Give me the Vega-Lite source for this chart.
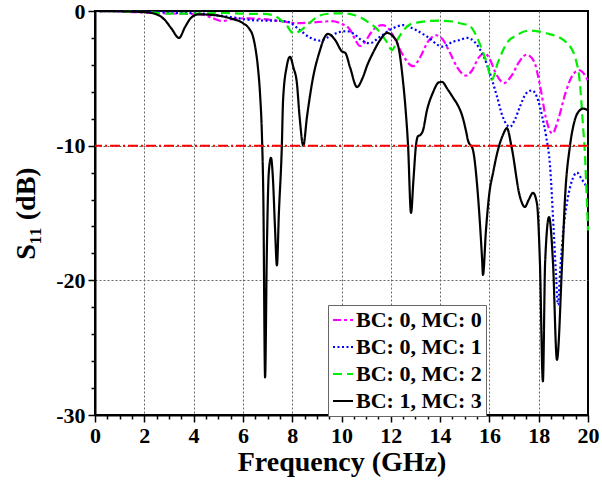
{
"$schema": "https://vega.github.io/schema/vega-lite/v6.json",
"width": 493, "height": 404,
"autosize": {"type": "none"},
"padding": {"left": 95, "top": 11, "right": 14, "bottom": 75},
"config": {
  "view": {"stroke": "#000", "strokeWidth": 2},
  "font": "Liberation Serif",
  "axis": {"labelFont": "Liberation Serif", "labelFontWeight": "bold", "labelFontSize": 22, "labelColor": "#000",
    "titleFont": "Liberation Serif", "titleFontWeight": "bold", "titleFontSize": 28, "titleColor": "#000",
    "domainColor": "#000", "domainWidth": 2, "tickColor": "#000", "tickWidth": 1.5,
    "gridColor": "#666", "gridDash": [2, 2], "gridWidth": 1, "labelOverlap": false, "labelFlush": false, "labelBound": false},
  "legend": {"title": null, "orient": "none", "legendX": 233, "legendY": 294, "symbolType": "stroke", "symbolStrokeWidth": 2,
    "symbolSize": 400, "labelFont": "Liberation Serif", "labelFontWeight": "bold", "labelFontSize": 22, "labelColor": "#000",
    "strokeColor": "#666", "fillColor": "#fff", "padding": 4, "rowPadding": 5, "labelOffset": 2, "labelLimit": 0}
},
"resolve": {"scale": {"y": "independent"}, "axis": {"y": "independent"}},
"layer": [
 {
  "data": {"values": [
{"s":"BC: 0, MC: 0","f":0,"v":0},{"s":"BC: 0, MC: 0","f":1,"v":-0.03},{"s":"BC: 0, MC: 0","f":2,"v":-0.12},{"s":"BC: 0, MC: 0","f":3,"v":-0.18},{"s":"BC: 0, MC: 0","f":3.6,"v":-0.2},{"s":"BC: 0, MC: 0","f":4.26,"v":-0.24},{"s":"BC: 0, MC: 0","f":4.8,"v":-0.55},{"s":"BC: 0, MC: 0","f":5.15,"v":-0.75},{"s":"BC: 0, MC: 0","f":5.6,"v":-0.58},{"s":"BC: 0, MC: 0","f":6.2,"v":-0.55},{"s":"BC: 0, MC: 0","f":6.8,"v":-0.6},{"s":"BC: 0, MC: 0","f":7.5,"v":-0.75},{"s":"BC: 0, MC: 0","f":8.2,"v":-0.9},{"s":"BC: 0, MC: 0","f":8.6,"v":-0.88},{"s":"BC: 0, MC: 0","f":9.2,"v":-0.8},{"s":"BC: 0, MC: 0","f":9.6,"v":-0.75},{"s":"BC: 0, MC: 0","f":10.0,"v":-0.95},{"s":"BC: 0, MC: 0","f":10.35,"v":-1.4},{"s":"BC: 0, MC: 0","f":10.55,"v":-2.1},{"s":"BC: 0, MC: 0","f":10.75,"v":-2.6},{"s":"BC: 0, MC: 0","f":10.95,"v":-2.3},{"s":"BC: 0, MC: 0","f":11.2,"v":-1.6},{"s":"BC: 0, MC: 0","f":11.45,"v":-1.15},{"s":"BC: 0, MC: 0","f":11.66,"v":-1.05},{"s":"BC: 0, MC: 0","f":11.9,"v":-1.3},{"s":"BC: 0, MC: 0","f":12.2,"v":-2.2},{"s":"BC: 0, MC: 0","f":12.5,"v":-3.3},{"s":"BC: 0, MC: 0","f":12.9,"v":-4.1},{"s":"BC: 0, MC: 0","f":13.2,"v":-3.4},{"s":"BC: 0, MC: 0","f":13.5,"v":-2.3},{"s":"BC: 0, MC: 0","f":13.85,"v":-1.8},{"s":"BC: 0, MC: 0","f":14.1,"v":-2.1},{"s":"BC: 0, MC: 0","f":14.4,"v":-3.1},{"s":"BC: 0, MC: 0","f":14.7,"v":-4.2},{"s":"BC: 0, MC: 0","f":15.05,"v":-4.8},{"s":"BC: 0, MC: 0","f":15.3,"v":-4.4},{"s":"BC: 0, MC: 0","f":15.55,"v":-3.5},{"s":"BC: 0, MC: 0","f":15.8,"v":-3.15},{"s":"BC: 0, MC: 0","f":16.0,"v":-3.5},{"s":"BC: 0, MC: 0","f":16.25,"v":-4.6},{"s":"BC: 0, MC: 0","f":16.6,"v":-5.35},{"s":"BC: 0, MC: 0","f":16.9,"v":-4.8},{"s":"BC: 0, MC: 0","f":17.2,"v":-3.8},{"s":"BC: 0, MC: 0","f":17.5,"v":-3.25},{"s":"BC: 0, MC: 0","f":17.8,"v":-3.7},{"s":"BC: 0, MC: 0","f":18.05,"v":-5.5},{"s":"BC: 0, MC: 0","f":18.3,"v":-8.0},{"s":"BC: 0, MC: 0","f":18.55,"v":-9.1},{"s":"BC: 0, MC: 0","f":18.8,"v":-8.0},{"s":"BC: 0, MC: 0","f":19.1,"v":-6.0},{"s":"BC: 0, MC: 0","f":19.4,"v":-4.7},{"s":"BC: 0, MC: 0","f":19.65,"v":-4.4},{"s":"BC: 0, MC: 0","f":19.85,"v":-4.7},{"s":"BC: 0, MC: 0","f":20,"v":-5.2},
{"s":"BC: 0, MC: 1","f":0,"v":0},{"s":"BC: 0, MC: 1","f":1,"v":-0.02},{"s":"BC: 0, MC: 1","f":2,"v":-0.05},{"s":"BC: 0, MC: 1","f":3,"v":-0.12},{"s":"BC: 0, MC: 1","f":4.4,"v":-0.2},{"s":"BC: 0, MC: 1","f":5.5,"v":-0.45},{"s":"BC: 0, MC: 1","f":6.55,"v":-0.7},{"s":"BC: 0, MC: 1","f":7.5,"v":-0.72},{"s":"BC: 0, MC: 1","f":7.9,"v":-0.85},{"s":"BC: 0, MC: 1","f":8.3,"v":-1.4},{"s":"BC: 0, MC: 1","f":8.7,"v":-1.95},{"s":"BC: 0, MC: 1","f":9.13,"v":-2.2},{"s":"BC: 0, MC: 1","f":9.5,"v":-1.9},{"s":"BC: 0, MC: 1","f":9.94,"v":-1.55},{"s":"BC: 0, MC: 1","f":10.22,"v":-1.5},{"s":"BC: 0, MC: 1","f":10.5,"v":-1.7},{"s":"BC: 0, MC: 1","f":10.8,"v":-2.15},{"s":"BC: 0, MC: 1","f":11.15,"v":-2.4},{"s":"BC: 0, MC: 1","f":11.5,"v":-2.0},{"s":"BC: 0, MC: 1","f":11.97,"v":-1.4},{"s":"BC: 0, MC: 1","f":12.5,"v":-1.05},{"s":"BC: 0, MC: 1","f":13.0,"v":-1.4},{"s":"BC: 0, MC: 1","f":13.47,"v":-1.9},{"s":"BC: 0, MC: 1","f":14.1,"v":-2.65},{"s":"BC: 0, MC: 1","f":14.5,"v":-2.3},{"s":"BC: 0, MC: 1","f":14.8,"v":-2.15},{"s":"BC: 0, MC: 1","f":15.1,"v":-2.0},{"s":"BC: 0, MC: 1","f":15.4,"v":-2.3},{"s":"BC: 0, MC: 1","f":15.6,"v":-2.8},{"s":"BC: 0, MC: 1","f":15.8,"v":-3.5},{"s":"BC: 0, MC: 1","f":16.0,"v":-4.5},{"s":"BC: 0, MC: 1","f":16.3,"v":-6.3},{"s":"BC: 0, MC: 1","f":16.55,"v":-7.9},{"s":"BC: 0, MC: 1","f":16.83,"v":-8.6},{"s":"BC: 0, MC: 1","f":17.05,"v":-8.0},{"s":"BC: 0, MC: 1","f":17.24,"v":-7.1},{"s":"BC: 0, MC: 1","f":17.5,"v":-6.1},{"s":"BC: 0, MC: 1","f":17.73,"v":-5.9},{"s":"BC: 0, MC: 1","f":17.97,"v":-6.6},{"s":"BC: 0, MC: 1","f":18.15,"v":-7.9},{"s":"BC: 0, MC: 1","f":18.3,"v":-9.3},{"s":"BC: 0, MC: 1","f":18.46,"v":-11.5},{"s":"BC: 0, MC: 1","f":18.6,"v":-16},{"s":"BC: 0, MC: 1","f":18.7,"v":-19.5},{"s":"BC: 0, MC: 1","f":18.78,"v":-21.8},{"s":"BC: 0, MC: 1","f":18.88,"v":-19},{"s":"BC: 0, MC: 1","f":19.0,"v":-16.3},{"s":"BC: 0, MC: 1","f":19.19,"v":-13.8},{"s":"BC: 0, MC: 1","f":19.35,"v":-12.6},{"s":"BC: 0, MC: 1","f":19.55,"v":-12.0},{"s":"BC: 0, MC: 1","f":19.75,"v":-12.5},{"s":"BC: 0, MC: 1","f":20,"v":-13.2},
{"s":"BC: 0, MC: 2","f":0,"v":0},{"s":"BC: 0, MC: 2","f":1,"v":-0.02},{"s":"BC: 0, MC: 2","f":2,"v":-0.08},{"s":"BC: 0, MC: 2","f":3.2,"v":-0.2},{"s":"BC: 0, MC: 2","f":3.85,"v":-0.2},{"s":"BC: 0, MC: 2","f":5.2,"v":-0.15},{"s":"BC: 0, MC: 2","f":6.0,"v":-0.2},{"s":"BC: 0, MC: 2","f":6.8,"v":-0.22},{"s":"BC: 0, MC: 2","f":7.2,"v":-0.3},{"s":"BC: 0, MC: 2","f":7.5,"v":-0.6},{"s":"BC: 0, MC: 2","f":7.75,"v":-1.0},{"s":"BC: 0, MC: 2","f":8.05,"v":-1.65},{"s":"BC: 0, MC: 2","f":8.3,"v":-1.5},{"s":"BC: 0, MC: 2","f":8.6,"v":-1.05},{"s":"BC: 0, MC: 2","f":9.1,"v":-0.35},{"s":"BC: 0, MC: 2","f":9.5,"v":-0.2},{"s":"BC: 0, MC: 2","f":10.0,"v":-0.17},{"s":"BC: 0, MC: 2","f":10.5,"v":-0.3},{"s":"BC: 0, MC: 2","f":10.8,"v":-0.5},{"s":"BC: 0, MC: 2","f":11.1,"v":-0.85},{"s":"BC: 0, MC: 2","f":11.45,"v":-1.35},{"s":"BC: 0, MC: 2","f":11.8,"v":-2.2},{"s":"BC: 0, MC: 2","f":12.05,"v":-2.9},{"s":"BC: 0, MC: 2","f":12.25,"v":-2.2},{"s":"BC: 0, MC: 2","f":12.45,"v":-1.6},{"s":"BC: 0, MC: 2","f":12.78,"v":-1.0},{"s":"BC: 0, MC: 2","f":13.1,"v":-0.85},{"s":"BC: 0, MC: 2","f":13.5,"v":-0.75},{"s":"BC: 0, MC: 2","f":14.0,"v":-0.72},{"s":"BC: 0, MC: 2","f":14.5,"v":-0.78},{"s":"BC: 0, MC: 2","f":14.9,"v":-0.95},{"s":"BC: 0, MC: 2","f":15.2,"v":-1.1},{"s":"BC: 0, MC: 2","f":15.4,"v":-1.6},{"s":"BC: 0, MC: 2","f":15.6,"v":-2.4},{"s":"BC: 0, MC: 2","f":15.9,"v":-3.9},{"s":"BC: 0, MC: 2","f":16.1,"v":-5.1},{"s":"BC: 0, MC: 2","f":16.35,"v":-3.8},{"s":"BC: 0, MC: 2","f":16.7,"v":-2.4},{"s":"BC: 0, MC: 2","f":17.1,"v":-1.8},{"s":"BC: 0, MC: 2","f":17.65,"v":-1.45},{"s":"BC: 0, MC: 2","f":18.3,"v":-1.65},{"s":"BC: 0, MC: 2","f":19.0,"v":-2.15},{"s":"BC: 0, MC: 2","f":19.3,"v":-2.7},{"s":"BC: 0, MC: 2","f":19.47,"v":-3.4},{"s":"BC: 0, MC: 2","f":19.67,"v":-5.35},{"s":"BC: 0, MC: 2","f":19.8,"v":-8.6},{"s":"BC: 0, MC: 2","f":19.88,"v":-10.8},{"s":"BC: 0, MC: 2","f":19.95,"v":-14},{"s":"BC: 0, MC: 2","f":20,"v":-16.3},
{"s":"BC: 1, MC: 3","f":0,"v":0},{"s":"BC: 1, MC: 3","f":1,"v":-0.02},{"s":"BC: 1, MC: 3","f":2,"v":-0.08},{"s":"BC: 1, MC: 3","f":2.5,"v":-0.25},{"s":"BC: 1, MC: 3","f":2.8,"v":-0.6},{"s":"BC: 1, MC: 3","f":3.1,"v":-1.3},{"s":"BC: 1, MC: 3","f":3.41,"v":-2.0},{"s":"BC: 1, MC: 3","f":3.65,"v":-1.2},{"s":"BC: 1, MC: 3","f":3.9,"v":-0.5},{"s":"BC: 1, MC: 3","f":4.2,"v":-0.25},{"s":"BC: 1, MC: 3","f":4.8,"v":-0.3},{"s":"BC: 1, MC: 3","f":5.5,"v":-0.55},{"s":"BC: 1, MC: 3","f":6.0,"v":-0.9},{"s":"BC: 1, MC: 3","f":6.25,"v":-1.3},{"s":"BC: 1, MC: 3","f":6.41,"v":-1.9},{"s":"BC: 1, MC: 3","f":6.52,"v":-2.9},{"s":"BC: 1, MC: 3","f":6.61,"v":-4.2},{"s":"BC: 1, MC: 3","f":6.7,"v":-6.3},{"s":"BC: 1, MC: 3","f":6.77,"v":-9.1},{"s":"BC: 1, MC: 3","f":6.83,"v":-14},{"s":"BC: 1, MC: 3","f":6.9,"v":-27.2},{"s":"BC: 1, MC: 3","f":6.97,"v":-18},{"s":"BC: 1, MC: 3","f":7.05,"v":-12},{"s":"BC: 1, MC: 3","f":7.14,"v":-10.9},{"s":"BC: 1, MC: 3","f":7.22,"v":-12.5},{"s":"BC: 1, MC: 3","f":7.3,"v":-16},{"s":"BC: 1, MC: 3","f":7.38,"v":-18.9},{"s":"BC: 1, MC: 3","f":7.46,"v":-15},{"s":"BC: 1, MC: 3","f":7.58,"v":-10},{"s":"BC: 1, MC: 3","f":7.63,"v":-6.6},{"s":"BC: 1, MC: 3","f":7.78,"v":-4.1},{"s":"BC: 1, MC: 3","f":7.91,"v":-3.4},{"s":"BC: 1, MC: 3","f":8.05,"v":-4.2},{"s":"BC: 1, MC: 3","f":8.19,"v":-5.35},{"s":"BC: 1, MC: 3","f":8.3,"v":-7.85},{"s":"BC: 1, MC: 3","f":8.45,"v":-10.0},{"s":"BC: 1, MC: 3","f":8.6,"v":-7.85},{"s":"BC: 1, MC: 3","f":8.85,"v":-4.9},{"s":"BC: 1, MC: 3","f":9.13,"v":-2.9},{"s":"BC: 1, MC: 3","f":9.3,"v":-2.0},{"s":"BC: 1, MC: 3","f":9.45,"v":-1.7},{"s":"BC: 1, MC: 3","f":9.74,"v":-2.15},{"s":"BC: 1, MC: 3","f":10.02,"v":-3.0},{"s":"BC: 1, MC: 3","f":10.15,"v":-3.1},{"s":"BC: 1, MC: 3","f":10.35,"v":-4.2},{"s":"BC: 1, MC: 3","f":10.63,"v":-5.65},{"s":"BC: 1, MC: 3","f":10.85,"v":-5.0},{"s":"BC: 1, MC: 3","f":11.05,"v":-4.0},{"s":"BC: 1, MC: 3","f":11.28,"v":-3.1},{"s":"BC: 1, MC: 3","f":11.55,"v":-2.2},{"s":"BC: 1, MC: 3","f":11.85,"v":-1.63},{"s":"BC: 1, MC: 3","f":12.1,"v":-1.9},{"s":"BC: 1, MC: 3","f":12.3,"v":-2.6},{"s":"BC: 1, MC: 3","f":12.5,"v":-5.3},{"s":"BC: 1, MC: 3","f":12.6,"v":-7.3},{"s":"BC: 1, MC: 3","f":12.7,"v":-10},{"s":"BC: 1, MC: 3","f":12.82,"v":-15.0},{"s":"BC: 1, MC: 3","f":12.92,"v":-12.5},{"s":"BC: 1, MC: 3","f":13.02,"v":-10},{"s":"BC: 1, MC: 3","f":13.1,"v":-9.3},{"s":"BC: 1, MC: 3","f":13.2,"v":-9.2},{"s":"BC: 1, MC: 3","f":13.3,"v":-8.9},{"s":"BC: 1, MC: 3","f":13.47,"v":-7.35},{"s":"BC: 1, MC: 3","f":13.7,"v":-6.1},{"s":"BC: 1, MC: 3","f":13.95,"v":-5.3},{"s":"BC: 1, MC: 3","f":14.08,"v":-5.27},{"s":"BC: 1, MC: 3","f":14.3,"v":-5.8},{"s":"BC: 1, MC: 3","f":14.55,"v":-6.5},{"s":"BC: 1, MC: 3","f":14.69,"v":-6.9},{"s":"BC: 1, MC: 3","f":14.9,"v":-7.8},{"s":"BC: 1, MC: 3","f":15.05,"v":-8.9},{"s":"BC: 1, MC: 3","f":15.13,"v":-9.6},{"s":"BC: 1, MC: 3","f":15.33,"v":-10.3},{"s":"BC: 1, MC: 3","f":15.54,"v":-13.8},{"s":"BC: 1, MC: 3","f":15.7,"v":-18.3},{"s":"BC: 1, MC: 3","f":15.74,"v":-19.6},{"s":"BC: 1, MC: 3","f":15.86,"v":-16.3},{"s":"BC: 1, MC: 3","f":16.0,"v":-13.5},{"s":"BC: 1, MC: 3","f":16.15,"v":-12},{"s":"BC: 1, MC: 3","f":16.35,"v":-10.3},{"s":"BC: 1, MC: 3","f":16.55,"v":-9.2},{"s":"BC: 1, MC: 3","f":16.71,"v":-8.7},{"s":"BC: 1, MC: 3","f":16.9,"v":-10.1},{"s":"BC: 1, MC: 3","f":17.24,"v":-13.8},{"s":"BC: 1, MC: 3","f":17.44,"v":-14.55},{"s":"BC: 1, MC: 3","f":17.6,"v":-14.0},{"s":"BC: 1, MC: 3","f":17.77,"v":-13.5},{"s":"BC: 1, MC: 3","f":17.93,"v":-14.3},{"s":"BC: 1, MC: 3","f":18.05,"v":-18.7},{"s":"BC: 1, MC: 3","f":18.17,"v":-27.5},{"s":"BC: 1, MC: 3","f":18.26,"v":-18.7},{"s":"BC: 1, MC: 3","f":18.42,"v":-15.3},{"s":"BC: 1, MC: 3","f":18.58,"v":-18.7},{"s":"BC: 1, MC: 3","f":18.74,"v":-25.9},{"s":"BC: 1, MC: 3","f":18.95,"v":-18.7},{"s":"BC: 1, MC: 3","f":19.07,"v":-13.8},{"s":"BC: 1, MC: 3","f":19.27,"v":-10},{"s":"BC: 1, MC: 3","f":19.45,"v":-8.2},{"s":"BC: 1, MC: 3","f":19.65,"v":-7.4},{"s":"BC: 1, MC: 3","f":19.8,"v":-7.25},{"s":"BC: 1, MC: 3","f":19.92,"v":-7.3},{"s":"BC: 1, MC: 3","f":20,"v":-7.4}
  ]},
  "mark": {"type": "line", "strokeWidth": 2.2, "interpolate": "monotone"},
  "encoding": {
   "x": {"field": "f", "type": "quantitative", "scale": {"domain": [0, 20], "nice": false},
     "axis": {"title": "Frequency (GHz)",
       "values": [0,0.5,1,1.5,2,2.5,3,3.5,4,4.5,5,5.5,6,6.5,7,7.5,8,8.5,9,9.5,10,10.5,11,11.5,12,12.5,13,13.5,14,14.5,15,15.5,16,16.5,17,17.5,18,18.5,19,19.5,20],
       "labelExpr": "datum.value % 2 === 0 ? '' + datum.value : ''",
       "labelOverlap": false,
       "tickSize": {"condition": {"test": "datum.value % 2 === 0", "value": 7}, "value": 4},
       "gridOpacity": {"condition": {"test": "datum.value % 2 === 0 && datum.value > 0 && datum.value < 20", "value": 1}, "value": 0},
       "labelPadding": 3, "titlePadding": 2}},
   "y": {"field": "v", "type": "quantitative", "scale": {"domain": [-30, 0], "nice": false},
     "axis": {"title": "S₁₁ (dB)",
       "values": [-30, -20, -10, 0],
       "labelExpr": "datum.value < 0 ? '-' + abs(datum.value) : '0'",
       "labelOverlap": false,
       "tickSize": 7,
       "gridOpacity": {"condition": {"test": "datum.value < -1 && datum.value > -29", "value": 1}, "value": 0},
       "labelPadding": 3, "titlePadding": 15}},
   "color": {"field": "s", "type": "nominal",
     "scale": {"domain": ["BC: 0, MC: 0", "BC: 0, MC: 1", "BC: 0, MC: 2", "BC: 1, MC: 3"], "range": ["#FF00FF", "#0000FF", "#00EE00", "#000000"]}},
   "strokeDash": {"field": "s", "type": "nominal",
     "scale": {"domain": ["BC: 0, MC: 0", "BC: 0, MC: 1", "BC: 0, MC: 2", "BC: 1, MC: 3"], "range": [[8, 3, 3, 3], [2, 2.5], [9, 5], [1, 0]]}}
  }
 },
 {
  "data": {"values": [{"v": -10}]},
  "mark": {"type": "rule", "color": "#FF0000", "strokeWidth": 2, "strokeDash": [10, 3, 2, 3]},
  "encoding": {"y": {"field": "v", "type": "quantitative", "scale": {"domain": [-30, 0], "nice": false},
    "axis": {"orient": "left", "title": null, "values": [-28,-26,-24,-22,-18,-16,-14,-12,-8,-6,-4,-2], "labels": false, "domain": false, "grid": false, "tickSize": 4}}}
 }
]
}
